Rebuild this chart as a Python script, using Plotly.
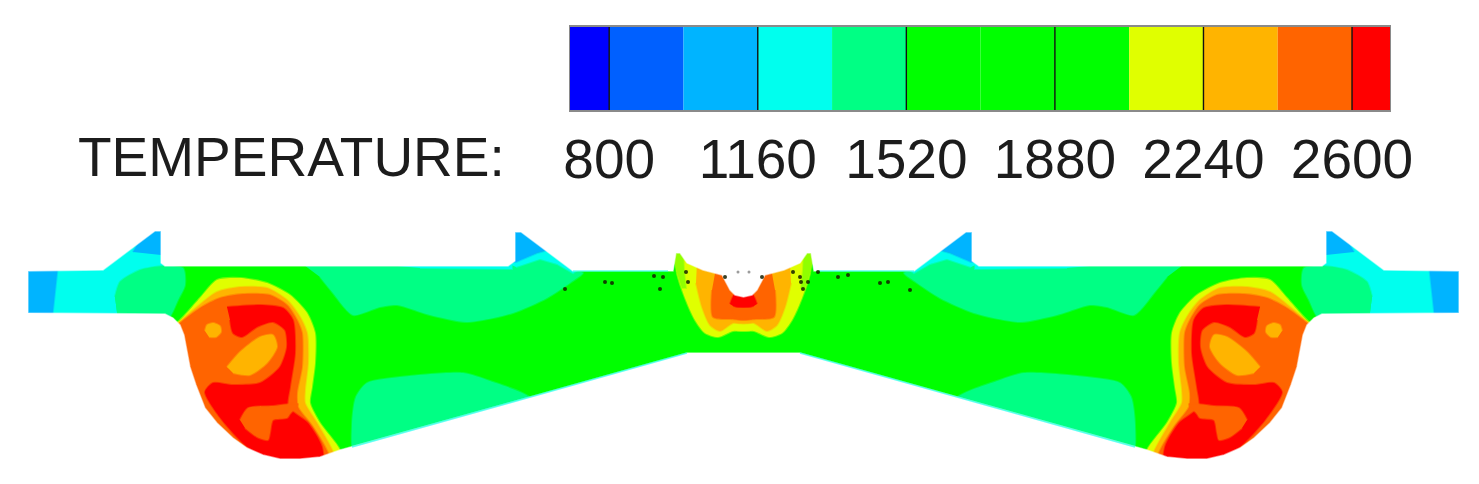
import plotly.graph_objects as go

# ---- colour scale ----
band_edges = [705, 800, 980, 1160, 1340, 1520, 1700, 1880, 2060, 2240, 2420, 2600, 2692]
band_colors = ["#0000ff", "#0060ff", "#00b4ff", "#00ffee", "#00ff84", "#00ff00", "#00ff00",
               "#00ff00", "#e0ff00", "#ffb400", "#ff6400", "#ff0000"]
tick_values = [800, 1160, 1520, 1880, 2240, 2600]
tick_labels = ["800", "1160", "1520", "1880", "2240", "2600"]
scale_title = "TEMPERATURE:"

COLD_SKY, CYAN, SPRING, GREEN = "#00b4ff", "#00ffee", "#00ff84", "#00ff00"
HORN, LIME, YELLOW, ORANGE, RED = "#90ff00", "#e0ff00", "#ffb400", "#ff6400", "#ff0000"
AXIS = 1487  # mirror: left x + right x

# ---- section outline (left half) ----
top_x = [28, 103, 155, 161, 161, 165, 508, 515, 515, 521, 573, 673, 676, 680, 687, 703, 722, 730, 735, 743.5]
top_y = [271, 270, 231, 231, 263, 266, 266, 261, 232, 232, 271, 271, 253, 253, 263, 270, 275, 290, 295, 297]
bot_x = [687, 340, 320, 300, 280, 263, 247, 233, 217, 205, 196, 190, 187, 184, 180, 173, 165, 28]
bot_y = [353, 450, 457, 459, 459, 455, 448, 438, 423, 408, 385, 367, 350, 335, 325, 318, 314, 313]

# ---- temperature regions (left half; mirrored on the right); may overrun the outline, which masks them ----
cy1_x = [50, 58, 100, 150, 168, 175, 140, 120, 115, 118, 45]
cy1_y = [320, 262, 262, 222, 222, 264, 272, 282, 297, 320, 320]
end_x = [20, 58, 52, 20];  end_y = [265, 265, 320, 320]
fin1_x = [133, 150, 168, 168, 161];  fin1_y = [252, 222, 222, 255, 255]
fin2_x = [505, 535, 548, 537, 516, 505];  fin2_y = [225, 225, 250, 253, 262, 262]
cy2_x = [505, 516, 537, 548, 580, 573, 557, 540, 516]
cy2_y = [262, 261, 253, 250, 268, 273, 264, 259, 267]
cy3_x = [330, 512, 512, 420];  cy3_y = [260, 260, 269, 268]
sp1_x = [115, 120, 140, 163, 183, 185, 178, 167, 118]
sp1_y = [297, 282, 270, 266, 268, 285, 300, 320, 320]
sp2_x = [300, 508, 540, 557, 573, 583, 570, 547, 513, 467, 430, 397, 380, 353, 333, 320]
sp2_y = [262, 262, 259, 264, 271, 273, 283, 298, 313, 322, 315, 305, 307, 315, 293, 277]
sp3_x = [356, 352, 356, 367, 400, 463, 490, 530, 530, 356]
sp3_y = [460, 425, 397, 383, 377, 373, 381, 398, 415, 460]

lime_x = [170, 178, 200, 217, 240, 267, 290, 307, 315, 315, 312, 310, 320, 340, 345, 175]
lime_y = [325, 322, 298, 280, 278, 283, 295, 313, 333, 363, 387, 403, 423, 450, 475, 475]
yel_x = [172, 182, 197, 217, 240, 267, 287, 300, 307, 308, 305, 305, 317, 333, 338, 175]
yel_y = [328, 320, 307, 292, 287, 288, 300, 317, 333, 363, 390, 403, 423, 452, 475, 475]
ora_x = [172, 180, 200, 220, 243, 270, 287, 297, 302, 302, 297, 298, 313, 328, 332, 175]
ora_y = [330, 323, 308, 298, 294, 295, 305, 320, 333, 367, 393, 407, 427, 453, 475, 475]
red_x = [227, 260, 283, 293, 295, 290, 288, 308, 322, 322, 270, 245, 222, 205, 213, 233, 260, 280, 287, 285, 273, 257, 242, 233, 230]
red_y = [307, 305, 308, 320, 353, 387, 407, 423, 447, 470, 462, 445, 420, 392, 383, 385, 383, 367, 347, 330, 322, 327, 337, 333, 320]
isl_x = [240, 248, 273, 298, 290, 287, 273, 270, 268, 257, 245]
isl_y = [420, 408, 406, 404, 414, 418, 420, 433, 440, 437, 428]
oval_x = [227, 240, 260, 273, 277, 267, 250, 233];  oval_y = [367, 352, 337, 335, 347, 363, 375, 373]
dot_x = [205, 207, 213, 220, 221, 216, 209];  dot_y = [331, 325, 323, 326, 332, 337, 337]

# ---- central hot zone (left half, slightly past the symmetry line) ----
c_lime_x = [668, 678, 675, 677, 685, 695, 705, 718, 733, 752, 752, 668]
c_lime_y = [235, 235, 253, 273, 298, 320, 333, 337, 331, 329, 235, 235]
c_horn_x = [670, 683, 684, 686, 682, 677];  c_horn_y = [245, 245, 270, 288, 288, 273]
c_yel_x = [697, 752, 752, 733, 720, 710, 702, 696]
c_yel_y = [262, 262, 322, 323, 331, 325, 307, 283]
c_ora_x = [716, 752, 752, 730, 713, 712];  c_ora_y = [268, 268, 318, 319, 317, 290]
c_red_x = [730, 735, 752, 752, 733];  c_red_y = [304, 294, 294, 306, 306]

# ---- outline edges that fade to cyan ----
edge1_x = [687, 352];  edge1_y = [353, 447]
edge2_x = [573, 668];  edge2_y = [271, 271]

# ---- specks ----
speck_x = [565, 605, 612, 654, 663, 660, 686, 688, 725, 762, 793, 800, 801, 808, 803, 818, 838, 848, 880, 888, 910]
speck_y = [289, 282, 283, 276, 277, 289, 272, 282, 277, 277, 272, 277, 282, 282, 289, 272, 277, 275, 283, 282, 290]
faint_x = [738, 749];  faint_y = [272, 272]


def rgba(hex_color, alpha):
    r, g, b = (int(hex_color[i:i + 2], 16) for i in (1, 3, 5))
    return f"rgba({r},{g},{b},{alpha})"


def mirror(xs):
    return [AXIS - v for v in xs]


fig = go.Figure()


def poly(xs, ys, color, smooth=True):
    line = dict(color=rgba(color, 0.45), width=2)
    if smooth:
        line.update(shape="spline", smoothing=0.7)
    fig.add_trace(go.Scatter(x=xs, y=ys, mode="lines", fill="toself", fillcolor=color, line=line, hoverinfo="skip"))


def both(xs, ys, color, smooth=True):
    poly(xs, ys, color, smooth)
    poly(mirror(xs), ys, color, smooth)


W, H = 1479, 484
whole_x = top_x + mirror(top_x)[::-1] + mirror(bot_x)[::-1] + bot_x
whole_y = top_y + top_y[::-1] + bot_y[::-1] + bot_y

# section body
poly(whole_x + whole_x[:1], whole_y + whole_y[:1], GREEN, smooth=False)

for xs, ys, col, sm in [(cy1_x, cy1_y, CYAN, False), (end_x, end_y, COLD_SKY, False), (fin1_x, fin1_y, COLD_SKY, False),
                        (sp1_x, sp1_y, SPRING, True), (sp2_x, sp2_y, SPRING, True), (sp3_x, sp3_y, SPRING, True),
                        (cy3_x, cy3_y, CYAN, False), (cy2_x, cy2_y, CYAN, False), (fin2_x, fin2_y, COLD_SKY, False),
                        (lime_x, lime_y, LIME, True), (yel_x, yel_y, YELLOW, True), (ora_x, ora_y, ORANGE, True),
                        (red_x, red_y, RED, True), (isl_x, isl_y, ORANGE, True), (oval_x, oval_y, YELLOW, True),
                        (dot_x, dot_y, YELLOW, True),
                        (c_lime_x, c_lime_y, LIME, True), (c_horn_x, c_horn_y, HORN, False), (c_yel_x, c_yel_y, YELLOW, True),
                        (c_ora_x, c_ora_y, ORANGE, True), (c_red_x, c_red_y, RED, True)]:
    both(xs, ys, col, sm)

# white mask outside the outline (rectangle with the outline as a hole wound the other way)
hole_x = (whole_x + whole_x[:1])[::-1]
hole_y = (whole_y + whole_y[:1])[::-1]
mask_x = [0, W, W, 0, 0, hole_x[0]] + hole_x + [0]
mask_y = [205, 205, H, H, 205, hole_y[0]] + hole_y + [205]
fig.add_trace(go.Scatter(x=mask_x, y=mask_y, mode="lines", fill="toself", fillcolor="white",
                         line=dict(color="rgba(255,255,255,0.55)", width=1.4), hoverinfo="skip"))

for xs, ys in [(edge1_x, edge1_y), (edge2_x, edge2_y)]:
    for xv in (xs, mirror(xs)):
        fig.add_trace(go.Scatter(x=xv, y=ys, mode="lines", line=dict(color=rgba(CYAN, 0.6), width=1.6), hoverinfo="skip"))

fig.add_trace(go.Scatter(x=speck_x, y=speck_y, mode="markers", hoverinfo="skip",
                         marker=dict(color="rgba(20,30,0,0.85)", size=4, line=dict(width=0))))
fig.add_trace(go.Scatter(x=faint_x, y=faint_y, mode="markers", hoverinfo="skip",
                         marker=dict(color="rgba(90,90,90,0.6)", size=3, line=dict(width=0))))

# colour bar
fig.add_trace(go.Bar(y=[0] * len(band_colors), x=[b - a for a, b in zip(band_edges, band_edges[1:])],
                     base=band_edges[:-1], orientation="h", width=1, marker=dict(color=band_colors, line=dict(width=0)),
                     xaxis="x2", yaxis="y2", hoverinfo="skip"))
sep_x, sep_y = [], []
for t in tick_values:
    sep_x += [t, t, None]
    sep_y += [-0.5, 0.5, None]
fig.add_trace(go.Scatter(x=sep_x, y=sep_y, mode="lines", line=dict(color="#111111", width=1.4),
                         xaxis="x2", yaxis="y2", hoverinfo="skip"))

fig.update_layout(
    template="none", width=W, height=H, margin=dict(l=0, r=0, t=0, b=0, pad=0), showlegend=False,
    paper_bgcolor="white", plot_bgcolor="rgba(0,0,0,0)",
    font=dict(family="Liberation Sans", color="#1c1c1c"),
    xaxis=dict(domain=[0, 1], range=[0, W], visible=False, fixedrange=True, automargin=False),
    yaxis=dict(domain=[0, 1], range=[H, 0], visible=False, fixedrange=True, automargin=False),
    xaxis2=dict(domain=[570 / W, 1390 / W], range=[band_edges[0], band_edges[-1]], anchor="y2", automargin=False,
                tickmode="array", tickvals=tick_values, ticktext=tick_labels,
                tickfont=dict(size=55, family="Liberation Sans", color="#1c1c1c"),
                ticks="", showgrid=False, zeroline=False, fixedrange=True,
                showline=True, linecolor="#8a8a8a", linewidth=2, mirror=True),
    yaxis2=dict(domain=[1 - 110 / H, 1 - 27 / H], range=[-0.5, 0.5], anchor="x2", showticklabels=False, automargin=False,
                ticks="", showgrid=False, zeroline=False, fixedrange=True,
                showline=True, linecolor="#8a8a8a", linewidth=1, mirror=True),
    annotations=[dict(text=scale_title, xref="paper", yref="paper", x=76 / W, y=1 - 157 / H,
                      xanchor="left", yanchor="middle", showarrow=False,
                      font=dict(size=55, family="Liberation Sans", color="#1c1c1c"))],
)
fig.write_html("out.html", config=dict(displayModeBar=False),
               post_script="document.body.style.margin='0';"
                           "document.getElementById('{plot_id}').style.filter='blur(0.7px)';")
